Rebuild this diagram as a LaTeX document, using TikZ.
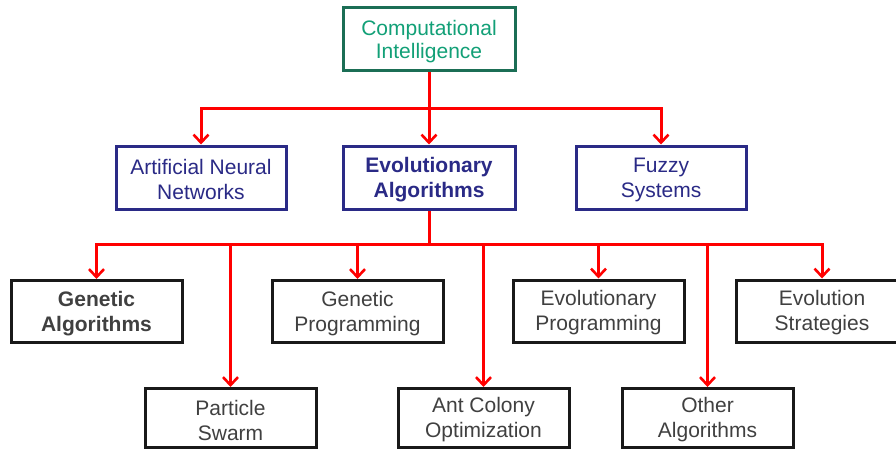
\documentclass[tikz,border=0pt]{standalone}
\usepackage{fontspec}
\setmainfont{Liberation Sans}
\usetikzlibrary{arrows.meta}
\definecolor{ciborder}{HTML}{1B6E55}
\definecolor{citext}{HTML}{12A077}
\definecolor{navy}{HTML}{2A2A86}
\definecolor{leaftext}{HTML}{404040}
\definecolor{linkred}{HTML}{FF0000}
\tikzset{
  box/.style={draw, line width=3pt, fill=white, inner sep=0pt,
    minimum width=171pt, minimum height=62pt},
  rootbox/.style={box, draw=ciborder},
  midbox/.style={box, draw=navy},
  leafbox/.style={box, draw=black!90},
  boxtext/.style={align=center, inner sep=0pt, yshift=-2pt,
    font=\fontsize{21}{25}\selectfont},
  roottext/.style={boxtext, text=citext, yshift=-1pt,
    font=\fontsize{21}{23.5}\selectfont},
  midtext/.style={boxtext, text=navy},
  leaftext/.style={boxtext, text=leaftext},
  link/.style={draw=linkred, line width=3pt},
  arrowlink/.style={link, -{Straight Barb[length=8pt,width=15pt,line width=2.6pt]}}
}
\begin{document}
\begin{tikzpicture}[x=1pt,y=-1pt]
\useasboundingbox (0,0) rectangle (896,450);
\fill[white] (0,0) rectangle (896,450);

% root
\node[rootbox, minimum width=172pt, minimum height=63pt,
  label={[roottext]center:{Computational\\Intelligence}}] (ci) at (429,38.5) {};

% second level
\node[midbox, minimum width=170pt, minimum height=63pt,
  label={[midtext]center:{Artificial Neural\\Networks}}] (ann) at (201,177.5) {};
\node[midbox, minimum width=172pt, minimum height=63pt,
  label={[midtext, font=\fontsize{21}{25}\selectfont\bfseries]center:{Evolutionary\\Algorithms}}] (ea) at (429,177.5) {};
\node[midbox, minimum width=170pt, minimum height=63pt,
  label={[midtext]center:{Fuzzy\\Systems}}] (fs) at (661,177.5) {};

% third level
\node[leafbox,
  label={[leaftext, font=\fontsize{21}{25}\selectfont\bfseries]center:{Genetic\\Algorithms}}] (ga) at (96.5,311.5) {};
\node[leafbox, label={[leaftext]center:{Genetic\\Programming}}] (gp) at (357.5,311.5) {};
\node[leafbox, label={[leaftext]center:{Evolutionary\\Programming}}] (ep) at (598.5,311) {};
\node[leafbox, minimum width=172pt,
  label={[leaftext]center:{Evolution\\Strategies}}] (es) at (822,311) {};

% fourth level
\node[leafbox, minimum height=59pt,
  label={[leaftext]center:{Particle\\Swarm}}] (ps) at (230.5,418) {};
\node[leafbox, minimum height=59pt,
  label={[leaftext]center:{Ant Colony\\Optimization}}] (aco) at (483.5,418) {};
\node[leafbox, minimum height=59pt,
  label={[leaftext]center:{Other\\Algorithms}}] (oa) at (707.5,418) {};

% connectors
\coordinate (j1) at (429,108);
\coordinate (j2) at (429,244);
\draw[link] (ci.south) -- (j1);
\draw[arrowlink] (j1) -| (ann.north);
\draw[arrowlink] (j1) -- (ea.north);
\draw[arrowlink] (j1) -| (fs.north);

\draw[link] (ea.south) -- (j2);
\draw[arrowlink] (j2) -| (ga.north);
\draw[arrowlink] (j2) -| (gp.north);
\draw[arrowlink] (j2) -| (ep.north);
\draw[arrowlink] (j2) -| (es.north);
\draw[arrowlink] (j2) -| (ps.north);
\draw[arrowlink] (j2) -| (aco.north);
\draw[arrowlink] (j2) -| (oa.north);
\end{tikzpicture}
\end{document}
